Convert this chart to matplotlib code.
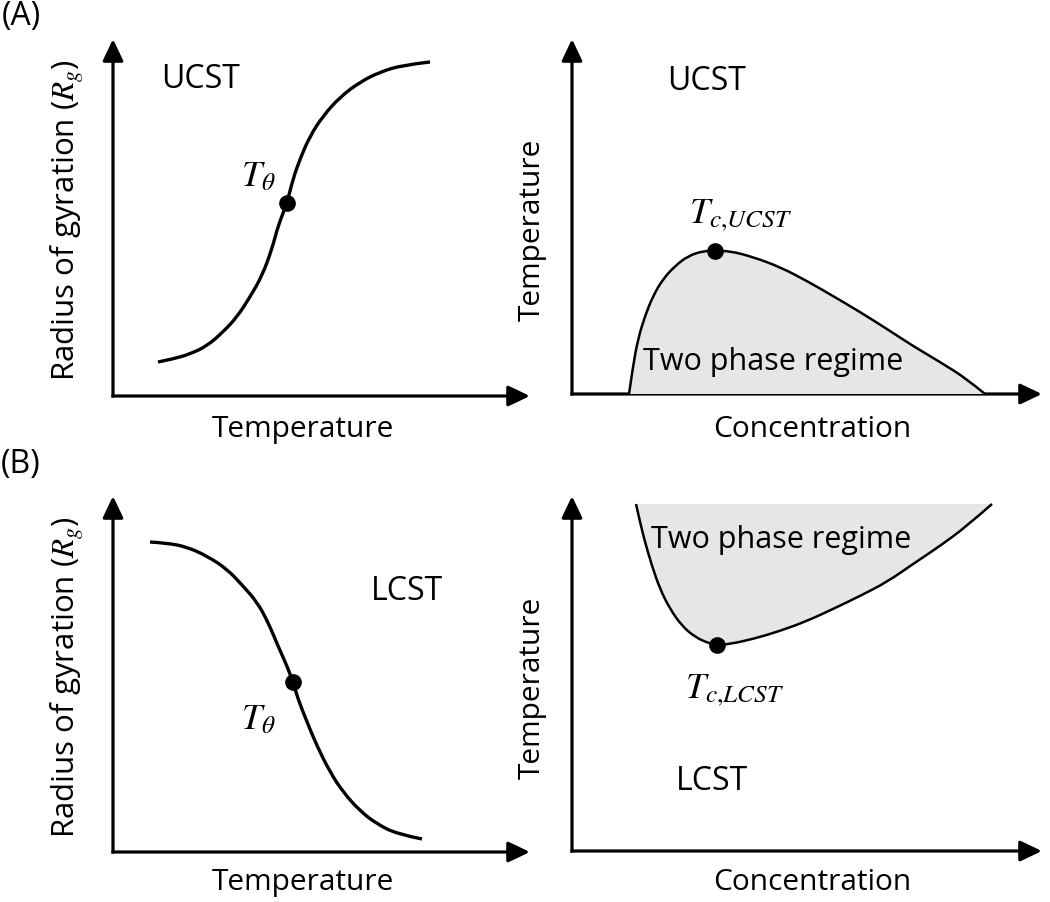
import matplotlib

matplotlib.use("Agg")
import matplotlib.pyplot as plt
from matplotlib.patches import FancyArrowPatch, PathPatch
from matplotlib.path import Path

plt.rcParams["font.family"] = ["Open Sans", "DejaVu Sans"]
plt.rcParams["mathtext.fontset"] = "stix"

# schematic curves (units: px from each panel's origin)
ucst_rg_x = [45, 60, 77, 94, 110, 124, 137, 149, 159, 165, 174, 180, 187, 197, 210, 227, 247, 267, 290, 317]
ucst_rg_y = [34, 37, 42, 50, 64, 79, 99, 120, 147, 170, 193, 217, 237, 260, 280, 299, 314, 324, 331, 334]
ucst_theta = (174, 193)

ucst_phase_x = [57, 61, 66, 73, 81, 91, 103, 116, 131, 143, 158, 181, 208, 235, 261, 288, 315, 341, 368, 395, 413]
ucst_phase_y = [0, 28, 55, 78, 98, 115, 128, 138, 143, 143, 143, 137, 127, 113, 98, 82, 65, 48, 32, 15, 0]
ucst_crit = (143, 143)

lcst_rg_x = [37, 54, 74, 94, 114, 130, 144, 155, 165, 174, 180, 185, 194, 204, 217, 230, 247, 264, 284, 309]
lcst_rg_y = [310, 309, 305, 296, 283, 266, 250, 230, 206, 186, 170, 153, 130, 106, 80, 60, 41, 28, 18, 13]
lcst_theta = (180, 170)

lcst_phase_x = [64, 68, 73, 80, 88, 98, 110, 123, 136, 145, 158, 181, 208, 235, 261, 288, 315, 341, 368, 395, 420]
lcst_phase_y = [347, 329, 309, 285, 262, 242, 225, 214, 208, 206, 207, 212, 220, 230, 242, 255, 269, 287, 305, 325, 347]
lcst_crit = (145, 206)

FIG_W, FIG_H = 1050, 903
fig = plt.figure(figsize=(FIG_W / 100, FIG_H / 100), dpi=100)


def smooth_path(xs, ys, close=False):
    # quadratic bezier through the midpoints of the read points
    pts = list(zip(xs, ys))
    verts, codes = [pts[0]], [Path.MOVETO]
    for i in range(1, len(pts) - 1):
        end = pts[i + 1] if i == len(pts) - 2 else ((pts[i][0] + pts[i + 1][0]) / 2, (pts[i][1] + pts[i + 1][1]) / 2)
        verts += [pts[i], end]
        codes += [Path.CURVE3, Path.CURVE3]
    if close:
        verts.append(pts[0])
        codes.append(Path.CLOSEPOLY)
    return Path(verts, codes)


AXIS_LW = 2.3


def panel(x0, y0, xtip, ytip):
    # origin (x0, y0) and arrow tips given in figure pixels (top-left origin)
    w, h = xtip - x0, y0 - ytip
    ax = fig.add_axes([x0 / FIG_W, (FIG_H - y0) / FIG_H, w / FIG_W, h / FIG_H])
    ax.set_xlim(0, w)
    ax.set_ylim(0, h)
    ax.axis("off")
    half = AXIS_LW * 100 / 72 / 2  # half line width in px (= data units here)
    for start, end in [((-half, 0), (w, 0)), ((0, -half), (0, h))]:
        arr = FancyArrowPatch(start, end, arrowstyle="-|>,head_length=0.95,head_width=0.45",
                              mutation_scale=14, color="black", lw=AXIS_LW, shrinkA=0, shrinkB=0,
                              capstyle="butt", clip_on=False)
        ax.add_patch(arr)
    return ax


def curve(ax, xs, ys, lw, fill=None):
    if fill:
        ax.add_patch(PathPatch(smooth_path(xs, ys, close=True), facecolor=fill, lw=0, clip_on=False))
    ax.add_patch(PathPatch(smooth_path(xs, ys), facecolor="none", edgecolor="black", lw=lw,
                           capstyle="butt", clip_on=False))


def ftext(x, y, s, **kw):
    fig.text(x / FIG_W, 1 - y / FIG_H, s, ha="center", va="center", **kw)


LABEL = 21.5
NOTE = 23
PHASE = 22
MATH = 26
GREY = "#e6e6e6"

# (A) UCST: radius of gyration
ax = panel(113, 397, 530, 40)
curve(ax, ucst_rg_x, ucst_rg_y, 2.4)
ax.plot(*ucst_theta, "o", color="black", ms=11, clip_on=False)
ax.text(88, 317, "UCST", fontsize=NOTE, ha="center", va="center")
ax.text(145, 220, r"$T_{\theta}$", fontsize=MATH, ha="center", va="center")

# (A) UCST: phase diagram
ax = panel(572, 395, 1042, 40)
curve(ax, ucst_phase_x, ucst_phase_y, 1.8, fill=GREY)
ax.plot(*ucst_crit, "o", color="black", ms=11, clip_on=False)
ax.text(135, 313, "UCST", fontsize=NOTE, ha="center", va="center")
ax.text(169, 180, r"$T_{c{,}UCST}$", fontsize=MATH, ha="center", va="center")
ax.text(201, 33, "Two phase regime", fontsize=PHASE, ha="center", va="center")

# (B) LCST: radius of gyration
ax = panel(113, 853, 530, 497)
curve(ax, lcst_rg_x, lcst_rg_y, 2.4)
ax.plot(*lcst_theta, "o", color="black", ms=11, clip_on=False)
ax.text(294, 261, "LCST", fontsize=NOTE, ha="center", va="center")
ax.text(145, 133, r"$T_{\theta}$", fontsize=MATH, ha="center", va="center")

# (B) LCST: phase diagram
ax = panel(572, 852, 1042, 497)
curve(ax, lcst_phase_x, lcst_phase_y, 1.8, fill=GREY)
ax.plot(*lcst_crit, "o", color="black", ms=11, clip_on=False)
ax.text(209, 312, "Two phase regime", fontsize=PHASE, ha="center", va="center")
ax.text(163, 162, r"$T_{c{,}LCST}$", fontsize=MATH, ha="center", va="center")
ax.text(140, 70, "LCST", fontsize=NOTE, ha="center", va="center")

# axis titles and panel letters
ftext(21, 17, "(A)", fontsize=23)
ftext(21, 465, "(B)", fontsize=23)
for yc in (220, 677):
    ftext(68, yc, r"Radius of gyration ($R_g$)", fontsize=22.5, rotation=90)
for yc in (230, 688):
    ftext(532, yc, "Temperature", fontsize=LABEL, rotation=90)
for yc in (430, 883):
    ftext(303, yc, "Temperature", fontsize=LABEL)
    ftext(812, yc, "Concentration", fontsize=LABEL)

fig.savefig("out.png", dpi=100)
